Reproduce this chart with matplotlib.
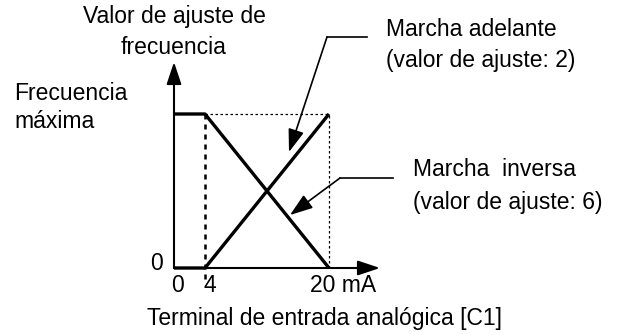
import matplotlib
matplotlib.use("Agg")
import matplotlib.pyplot as plt

plt.rcParams['font.family'] = ['Liberation Sans', 'DejaVu Sans']

# ---- data ----
x_points = [0, 4, 20]              # analog input current (mA)
forward = [0, 0, 1]                # Marcha adelante (fraction of max freq)
inverse = [1, 1, 0]                # Marcha inversa
x_tick_values = [0, 4, 20]
x_tick_labels = ['0', '4', '20 mA']
y_tick_values = [0, 1]
y_tick_labels = ['0', 'Frecuencia\nmáxima']

W, H = 617, 335
fig = plt.figure(figsize=(W / 100, H / 100), dpi=100)

# axes placed so that data (0..20, 0..1) map onto the plot frame
x0_px, x1_px, y0_px, y1_px = 174, 329, 268, 114
ax = fig.add_axes([x0_px / W, 1 - y0_px / H, (x1_px - x0_px) / W, (y0_px - y1_px) / H])
ax.set_xlim(0, 20)
ax.set_ylim(0, 1)
ax.axis('off')

def px2data(px, py):
    return ((px - x0_px) / (x1_px - x0_px) * 20, (y0_px - py) / (y0_px - y1_px))

FS = 16.5

# dotted guides
ax.plot([4, 4], [1, px2data(0, 280)[1]], color='black', lw=1.8, ls=(0, (2, 2)), clip_on=False)
ax.plot([20, 20], [0, 1], color='black', lw=0.9, ls=(0, (2, 2)), clip_on=False)
ax.plot([4, 20], [1, 1], color='black', lw=0.9, ls=(0, (2, 2)), clip_on=False)

# axes arrows
xa_end = px2data(380, 0)[0]
ya_end = px2data(0, 62)[1]
ax.annotate('', xy=(xa_end, 0), xytext=(0, 0),
            arrowprops=dict(arrowstyle='-|>,head_length=0.9,head_width=0.3', mutation_scale=15,
                            lw=1.5, color='black', shrinkA=0, shrinkB=0), annotation_clip=False)
ax.annotate('', xy=(0, ya_end), xytext=(0, 0),
            arrowprops=dict(arrowstyle='-|>,head_length=0.9,head_width=0.3', mutation_scale=15,
                            lw=1.5, color='black', shrinkA=0, shrinkB=0), annotation_clip=False)

# characteristic lines
ax.plot(x_points, forward, color='black', lw=2.4, clip_on=False, solid_capstyle='butt')
ax.plot(x_points, inverse, color='black', lw=2.4, clip_on=False, solid_capstyle='butt')

# leader lines with arrows
def leader(p_start, p_corner, p_tip):
    s = px2data(*p_start); c = px2data(*p_corner); t = px2data(*p_tip)
    ax.plot([s[0], c[0]], [s[1], c[1]], color='black', lw=1.2, clip_on=False)
    ax.annotate('', xy=t, xytext=c,
                arrowprops=dict(arrowstyle='-|>,head_length=1.0,head_width=0.35', mutation_scale=14,
                                lw=1.2, color='black', shrinkA=0, shrinkB=0), annotation_clip=False)

leader((367, 37), (327, 37), (289, 152))
leader((393, 178), (340, 178), (290, 215))

# texts
def ftext(px, py, s, **kw):
    fig.text(px / W, 1 - py / H, s, fontsize=FS, va='center', **kw)

ftext(174, 17, 'Valor de ajuste de', ha='center')
ftext(174, 47, 'frecuencia', ha='center')
ftext(14, 93, 'Frecuencia', ha='left')
ftext(14, 121, 'máxima', ha='left')
ftext(386, 30, 'Marcha adelante', ha='left')
ftext(386, 61, '(valor de ajuste: 2)', ha='left')
ftext(413, 170, 'Marcha  inversa', ha='left')
ftext(413, 202, '(valor de ajuste: 6)', ha='left')
ftext(147, 318, 'Terminal de entrada analógica [C1]', ha='left')

# tick labels
ax.annotate(y_tick_labels[0], xy=(0, y_tick_values[0]), xytext=(-17, 5), textcoords='offset pixels',
            ha='center', va='center', fontsize=FS, annotation_clip=False)
ax.annotate(x_tick_labels[0], xy=(x_tick_values[0], 0), xytext=(4, -17), textcoords='offset pixels',
            ha='center', va='center', fontsize=FS, annotation_clip=False)
ax.annotate(x_tick_labels[1], xy=(x_tick_values[1], 0), xytext=(5, -17), textcoords='offset pixels',
            ha='center', va='center', fontsize=FS, annotation_clip=False)
ax.annotate(x_tick_labels[2], xy=(x_tick_values[2], 0), xytext=(-19, -17), textcoords='offset pixels',
            ha='left', va='center', fontsize=FS, annotation_clip=False)

fig.savefig('out.png', dpi=100)
